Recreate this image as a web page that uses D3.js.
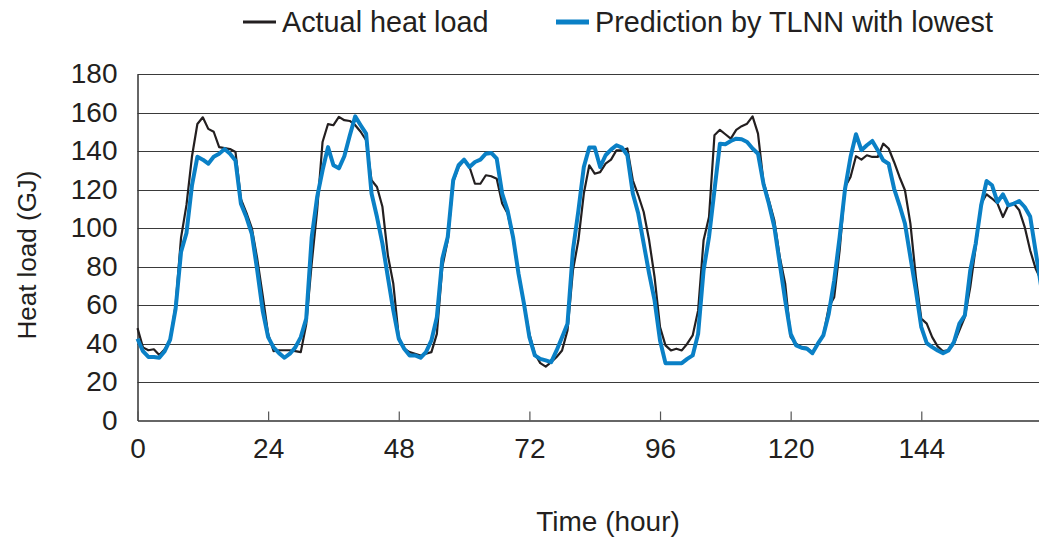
<!DOCTYPE html>
<html>
<head>
<meta charset="utf-8">
<script src="https://cdn.jsdelivr.net/npm/d3@7"></script>
<style>
  html, body { margin: 0; padding: 0; background: #fff; }
  svg { display: block; font-family: "Liberation Sans", Arial, sans-serif; }
</style>
</head>
<body>
<svg id="chart" width="1039" height="542"></svg>
<script>
// Hourly heat load over one week (GJ)
const hours = d3.range(0, 167);

const actualLoad = [
  48, 38, 36.5, 37, 34, 37, 41.5, 60, 95, 112,
  137, 154, 157.5, 151.5, 150, 142, 141.5, 141, 139.5, 115,
  108, 100, 84, 65, 45, 36, 36.5, 36.5, 36.5, 36,
  35.5, 50, 81.5, 109, 144.7, 154, 153.4, 157.7, 156, 155.6,
  153.4, 150, 145.6, 124.8, 121.3, 111, 85.8, 71, 43.3, 37.3,
  35.5, 34.7, 33.8, 34.7, 35.5, 45, 79.7, 93.6, 124, 131.7,
  135.2, 131.7, 123, 123, 127.4, 126.9, 125.6, 112.7, 107.5, 94.5,
  76.3, 60.7, 45, 34.7, 29.8, 28, 30.3, 33, 36.4, 46.8,
  78, 93.6, 117.9, 132.6, 128.2, 129, 133.4, 135.5, 140.4, 140.4,
  141.3, 124.8, 117, 108.3, 93.6, 74.5, 48.5, 39, 36.4, 37.3,
  36.4, 39.9, 44.2, 57.2, 93.6, 105.7, 148.2, 151, 148.7, 146.4,
  151, 152.9, 154.2, 158, 149, 124, 114.4, 104, 84.9, 71,
  43.3, 39.9, 38.1, 37.8, 35, 39.9, 44.2, 58.9, 64.1, 88.4,
  121.3, 126.5, 137.3, 135.5, 137.8, 136.9, 136.9, 143.8, 141.3, 134.3,
  126.5, 119.6, 102.3, 74.5, 52.9, 50.3, 43.3, 38.5, 36, 36.4,
  39.9, 46.8, 53.7, 69.3, 90.1, 112.7, 117.5, 115.3, 112.7, 105.7,
  111.8, 112.7, 109.2, 100.5, 88.4, 79, 73
];

const predictedLoad = [
  42.5, 36, 33, 33, 32.6, 36, 42, 58, 87.5, 97.4,
  122, 137, 135.5, 133.4, 137, 138.6, 141, 138.6, 135, 112.6,
  105.7, 97, 78, 57, 43.3, 38, 35, 32.6, 34.7, 38,
  43.3, 52.9, 95, 116, 130, 142, 132.6, 131, 137.3, 148,
  158, 153.4, 149, 117.9, 105.7, 91.9, 74.5, 57.2, 42.5, 37.3,
  33.8, 33.8, 32.6, 35.5, 41.6, 53.7, 84, 95.3, 124.8, 132.6,
  135.5, 131.7, 134.3, 135.5, 138.6, 139, 136, 117.9, 109, 95.3,
  76.3, 60.7, 43.3, 33.8, 32, 31.2, 30.3, 36.4, 43.3, 50.3,
  88.4, 109, 131.7, 141.8, 141.8, 131.7, 137.8, 140.7, 143, 141.8,
  137.8, 117.9, 107.5, 91.9, 76.3, 62.4, 41.6, 29.8, 29.8, 29.8,
  29.8, 32, 33.8, 45, 78, 95.3, 119.6, 143.8, 143.5, 145.2,
  146.4, 146.1, 144.7, 141.3, 138.6, 123, 112.6, 100.5, 81.5, 62.4,
  45, 39, 37.8, 37.3, 35, 39.9, 44.2, 55.5, 72.8, 95.3,
  120.5, 136.9, 148.7, 140.4, 143, 145.2, 140.4, 135.2, 133.4, 120.5,
  111.8, 102.3, 84.9, 67.6, 48.5, 40.2, 38.1, 36.4, 35, 36.4,
  40.7, 50.3, 54.6, 78, 91.9, 111.8, 124.4, 122.2, 113.5, 117.5,
  111.8, 112.7, 114, 110.9, 106, 88, 70
];

const xTicks = [0, 24, 48, 72, 96, 120, 144];
const yTicks = [0, 20, 40, 60, 80, 100, 120, 140, 160, 180];

const seriesNames = ["Actual heat load", "Prediction by TLNN with lowest"];
const seriesColors = ["#231f20", "#0a80c6"];
const seriesWidths = [2.2, 4];

const svg = d3.select("#chart");
const plotLeft = 137.5, plotTop = 74, plotBottom = 420.5;
const hourPx = 5.443;
const fontSize = 28;

const x = d3.scaleLinear().domain([0, 168]).range([plotLeft, plotLeft + 168 * hourPx]);
const y = d3.scaleLinear().domain([0, 180]).range([plotBottom, plotTop]);

// Horizontal gridlines
svg.append("g")
  .selectAll("line")
  .data(yTicks.filter(v => v > 0))
  .join("line")
  .attr("x1", plotLeft).attr("x2", 1039)
  .attr("y1", d => Math.round(y(d)) + 0.5).attr("y2", d => Math.round(y(d)) + 0.5)
  .attr("stroke", "#3a3a3a").attr("stroke-width", 1.1);

// Y axis
const yAxis = d3.axisLeft(y).tickValues(yTicks).tickSize(0).tickPadding(20);
const gy = svg.append("g").attr("transform", `translate(${plotLeft},0)`).call(yAxis);
gy.select(".domain").attr("stroke", "#333").attr("stroke-width", 1.5);
gy.selectAll("text")
  .attr("font-size", fontSize).attr("fill", "#231f20")
  .attr("font-family", "'Liberation Sans', Arial, sans-serif");

// X axis with inward ticks
const xAxis = d3.axisBottom(x).tickValues(xTicks).tickSizeInner(-9).tickSizeOuter(0).tickPadding(18);
const gx = svg.append("g").attr("transform", `translate(0,${plotBottom})`).call(xAxis);
gx.select(".domain").attr("stroke", "#333").attr("stroke-width", 1.5);
gx.selectAll(".tick line").attr("stroke", "#555").attr("stroke-width", 1.2);
gx.selectAll("text")
  .attr("font-size", fontSize).attr("fill", "#231f20")
  .attr("font-family", "'Liberation Sans', Arial, sans-serif");

// Axis titles
svg.append("text")
  .attr("x", 608).attr("y", 531)
  .attr("text-anchor", "middle").attr("font-size", fontSize).attr("fill", "#231f20")
  .text("Time (hour)");
svg.append("text")
  .attr("transform", "translate(36,255) rotate(-90)")
  .attr("text-anchor", "middle").attr("font-size", 26).attr("fill", "#231f20")
  .text("Heat load (GJ)");

// Series lines
const line = d3.line().x((d, i) => x(hours[i])).y(d => y(d));
[actualLoad, predictedLoad].forEach((vals, k) => {
  svg.append("path")
    .datum(vals)
    .attr("d", line)
    .attr("fill", "none")
    .attr("stroke", seriesColors[k])
    .attr("stroke-width", seriesWidths[k])
    .attr("stroke-linejoin", "round");
});

// Legend
const legendX = [243, 556];
const legend = svg.append("g");
seriesNames.forEach((name, k) => {
  legend.append("line")
    .attr("x1", legendX[k]).attr("x2", legendX[k] + 33)
    .attr("y1", 22).attr("y2", 22)
    .attr("stroke", seriesColors[k]).attr("stroke-width", k === 0 ? 3 : 5);
  legend.append("text")
    .attr("x", legendX[k] + 39).attr("y", 32)
    .attr("font-size", 28.8).attr("fill", "#231f20")
    .text(name);
});
</script>
</body>
</html>
